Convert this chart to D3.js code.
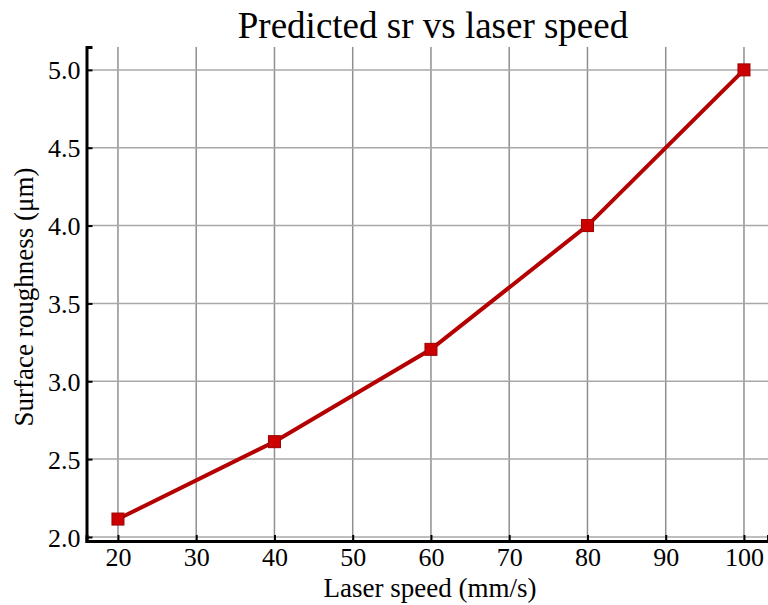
<!DOCTYPE html>
<html><head><meta charset="utf-8">
<script src="https://cdn.jsdelivr.net/npm/d3@7"></script>
<style>body{margin:0;background:#fff}svg{display:block}</style>
</head><body>
<svg id="c" width="768" height="605"></svg>
<script>
const speeds = [20, 40, 60, 80, 100];
const roughness = [2.115, 2.612, 3.205, 4.0, 5.0];
const xTicks = [20, 30, 40, 50, 60, 70, 80, 90, 100];
const yTicks = [2.0, 2.5, 3.0, 3.5, 4.0, 4.5, 5.0];
const titleText = "Predicted sr vs laser speed";
const xLabel = "Laser speed (mm/s)";
const yLabel = "Surface roughness (\u03bcm)";

const svg = d3.select("#c");
const font = "'Liberation Serif','Times New Roman',serif";
const L = 86.5, R = 768, T = 47, B = 541;
const x = d3.scaleLinear().domain([15.98, 103.07]).range([L, R]);
const y = d3.scaleLinear().domain([1.974, 5.147]).range([B, T]);

// grid
const g = svg.append("g");
g.selectAll(".vx").data(xTicks).join("line")
  .attr("x1", d => x(d)).attr("x2", d => x(d)).attr("y1", T).attr("y2", B)
  .attr("stroke", "#8f8f8f").attr("stroke-width", 1.5);
g.selectAll(".hy").data(yTicks).join("line")
  .attr("x1", L).attr("x2", R).attr("y1", d => y(d)).attr("y2", d => y(d))
  .attr("stroke", "#a8a8a8").attr("stroke-width", 1.5);

// axes
const xAxis = d3.axisBottom(x).tickValues(xTicks).tickSize(-6).tickPadding(7).tickFormat(d3.format("d"));
const yAxis = d3.axisLeft(y).tickValues(yTicks).tickSize(-6).tickPadding(6).tickFormat(d3.format(".1f"));
const gx = svg.append("g").attr("transform", `translate(0,${B})`).call(xAxis);
const gy = svg.append("g").attr("transform", `translate(${L},0)`).call(yAxis);
[gx, gy].forEach(a => {
  a.attr("font-size", 26).attr("font-family", font);
  a.select(".domain").attr("stroke", "#000").attr("stroke-width", 3);
  a.selectAll(".tick line").attr("stroke", "#000").attr("stroke-width", 2);
  a.selectAll(".tick text").attr("fill", "#000");
});
gy.selectAll(".tick text").attr("dy", "0.35em");

// line
const pts = speeds.map((s, i) => [s, roughness[i]]);
svg.append("path").datum(pts)
  .attr("d", d3.line().x(d => x(d[0])).y(d => y(d[1])))
  .attr("fill", "none").attr("stroke", "#b40000").attr("stroke-width", 4);
svg.selectAll(".m").data(pts).join("rect")
  .attr("x", d => x(d[0]) - 6).attr("y", d => y(d[1]) - 6)
  .attr("width", 12).attr("height", 12)
  .attr("fill", "#cc0000").attr("stroke", "#9a0000").attr("stroke-width", 1);

// titles
svg.append("text").attr("x", 433).attr("y", 38).attr("text-anchor", "middle")
  .style("font-family", font).style("font-size", "37px").text(titleText);
svg.append("text").attr("x", 430).attr("y", 597).attr("text-anchor", "middle")
  .style("font-family", font).style("font-size", "27px").text(xLabel);
svg.append("text").attr("transform", "translate(33,297) rotate(-90)").attr("text-anchor", "middle")
  .style("font-family", font).style("font-size", "27px").text(yLabel);
</script>
</body></html>
